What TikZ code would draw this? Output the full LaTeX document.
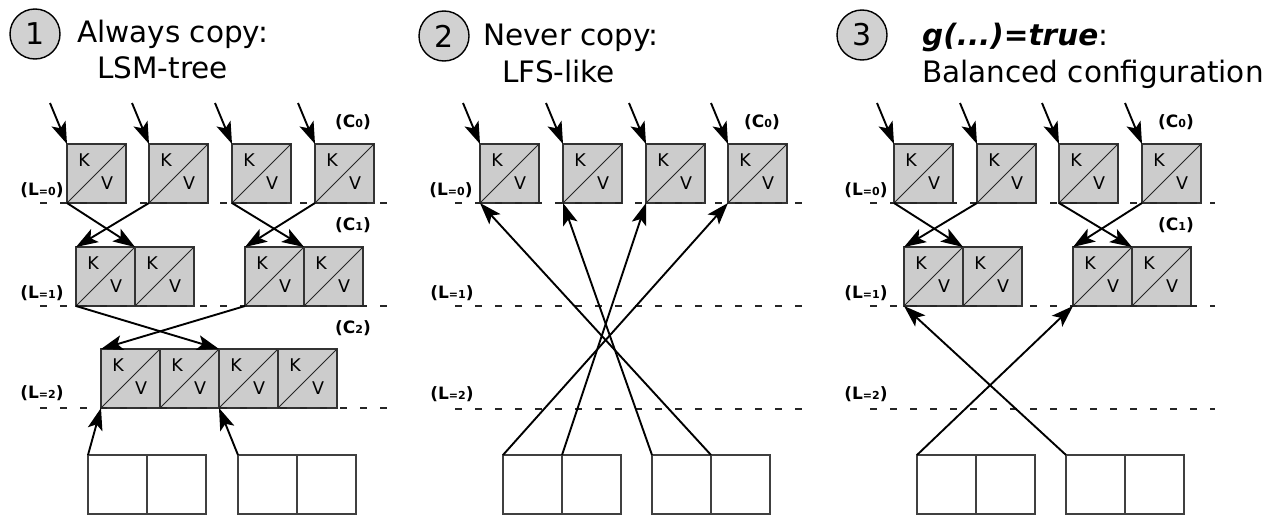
\documentclass[tikz,border=0pt]{standalone}
\usepackage{fontspec}
\setmainfont{DejaVu Sans}
\usetikzlibrary{arrows.meta,calc}
\newcommand\kvb[3]{%
  \node[kv] (#1) at (#2,#3) {};
  \draw[diag] (#1.south west) -- (#1.north east);
  \node[kvt] at ($(#1.north west)+(17,16)$) {K};
  \node[kvt] at ($(#1.north west)+(40,39)$) {V};
}
\newcommand\wbx[3]{\node[wb] (#1) at (#2,#3) {};}
\newcommand\lv[1]{{\fontsize{11}{11}\selectfont #1}}
\tikzset{bigtip/.tip={Stealth[length=22pt,width=15pt,inset=5pt]}}
\begin{document}
\begin{tikzpicture}[x=1pt,y=-1pt,
  kv/.style={rectangle,draw=black!80,fill=black!20,line width=1.4pt,minimum width=59pt,minimum height=59pt,inner sep=0pt,outer sep=0pt,anchor=north west},
  wb/.style={rectangle,draw=black!75,fill=white,line width=1.4pt,minimum width=59pt,minimum height=59pt,inner sep=0pt,outer sep=0pt,anchor=north west},
  diag/.style={line width=1pt,draw=black!85},
  kvt/.style={font=\fontsize{17.5}{17.5}\selectfont,inner sep=0pt},
  lvl/.style={dash pattern=on 7pt off 13pt,line width=1.8pt,draw=black!85},
  arr/.style={line width=1.9pt,arrows={-bigtip}},
  lab/.style={font=\fontsize{17}{17}\selectfont\bfseries,inner sep=0pt},
  num/.style={circle,draw,fill=black!18,line width=1.4pt,minimum size=50pt,inner sep=0pt,font=\fontsize{30}{30}\selectfont},
  ttl/.style={font=\fontsize{29.5}{29.5}\selectfont,anchor=base west,inner sep=0pt}
]
\useasboundingbox (0,0) rectangle (1274,514);

% ---------- titles ----------
\node[num] (n1) at (35,34) {1};
\node[num] (n2) at (444,36) {2};
\node[num] (n3) at (862,35) {3};
\node[ttl] (t1a) at (77,42) {Always copy:};
\node[ttl] (t1b) at (97,78) {LSM-tree};
\node[ttl] (t2a) at (483,45) {Never copy:};
\node[ttl] (t2b) at (502,82) {LFS-like};
\node[ttl] (t3a) at (922,45) {\textbf{\textit{g(...)=true}}:};
\node[ttl] (t3b) at (922,82) {Balanced configuration};

% ---------- panel 1 ----------
\kvb{a00}{67}{144}\kvb{a01}{149}{144}\kvb{a02}{232}{144}\kvb{a03}{315}{144}
\kvb{a10}{76}{247}\kvb{a11}{135}{247}\kvb{a12}{245}{247}\kvb{a13}{304}{247}
\kvb{a20}{101}{349}\kvb{a21}{160}{349}\kvb{a22}{219}{349}\kvb{a23}{278}{349}
\wbx{ab0}{88}{455}\wbx{ab1}{147}{455}\wbx{ab2}{238}{455}\wbx{ab3}{297}{455}
\draw[lvl] (40,203) -- (387,203);
\draw[lvl] (40,306) -- (387,306);
\draw[lvl] (40,408) -- (387,408);
\node[lab] (al0) at (42,190) {(L\lv{=0})};
\node[lab] (al1) at (42,293) {(L\lv{=1})};
\node[lab] (al2) at (42,393) {(L\lv{=2})};
\node[lab] (ac0) at (353,122) {(C\lv{0})};
\node[lab] (ac1) at (353,225) {(C\lv{1})};
\node[lab] (ac2) at (353,328) {(C\lv{2})};
\foreach \b in {a00,a01,a02,a03}{
  \coordinate (\b in) at ($(\b.north west)+(-17,-41)$);
  \draw[arr] (\b in) -- (\b.north west);
}
\draw[arr] (a00.south west) -- (a11.north west);
\draw[arr] (a01.south west) -- (a10.north west);
\draw[arr] (a02.south west) -- (a13.north west);
\draw[arr] (a03.south west) -- (a12.north west);
\draw[arr] (a10.south west) -- (a22.north west);
\draw[arr] (a12.south west) -- (a20.north west);
\draw[arr] (ab0.north west) -- (a20.south west);
\draw[arr] (ab2.north west) -- (a22.south west);

% ---------- panel 2 ----------
\kvb{b00}{480}{144}\kvb{b01}{563}{144}\kvb{b02}{646}{144}\kvb{b03}{728}{144}
\wbx{bb0}{503}{455}\wbx{bb1}{562}{455}\wbx{bb2}{652}{455}\wbx{bb3}{711}{455}
\draw[lvl] (455,203) -- (802,203);
\draw[lvl] (455,306) -- (802,306);
\draw[lvl] (455,409) -- (802,409);
\node[lab] (bl0) at (451,190) {(L\lv{=0})};
\node[lab] (bl1) at (452,293) {(L\lv{=1})};
\node[lab] (bl2) at (452,394) {(L\lv{=2})};
\node[lab] (bc0) at (762,122) {(C\lv{0})};
\foreach \b in {b00,b01,b02,b03}{
  \coordinate (\b in) at ($(\b.north west)+(-17,-41)$);
  \draw[arr] (\b in) -- (\b.north west);
}
\draw[arr] (bb0.north west) -- (b03.south west);
\draw[arr] (bb1.north west) -- (b02.south west);
\draw[arr] (bb2.north west) -- (b01.south west);
\draw[arr] (bb3.north west) -- (b00.south west);

% ---------- panel 3 ----------
\kvb{c00}{894}{144}\kvb{c01}{977}{144}\kvb{c02}{1059}{144}\kvb{c03}{1142}{144}
\kvb{c10}{904}{247}\kvb{c11}{963}{247}\kvb{c12}{1073}{247}\kvb{c13}{1132}{247}
\wbx{cb0}{917}{455}\wbx{cb1}{976}{455}\wbx{cb2}{1066}{455}\wbx{cb3}{1125}{455}
\draw[lvl] (870,203) -- (1215,203);
\draw[lvl] (870,306) -- (1215,306);
\draw[lvl] (870,409) -- (1215,409);
\node[lab] (cl0) at (866,190) {(L\lv{=0})};
\node[lab] (cl1) at (866,293) {(L\lv{=1})};
\node[lab] (cl2) at (866,394) {(L\lv{=2})};
\node[lab] (cc0) at (1176,122) {(C\lv{0})};
\node[lab] (cc1) at (1176,225) {(C\lv{1})};
\foreach \b in {c00,c01,c02,c03}{
  \coordinate (\b in) at ($(\b.north west)+(-17,-41)$);
  \draw[arr] (\b in) -- (\b.north west);
}
\draw[arr] (c00.south west) -- (c11.north west);
\draw[arr] (c01.south west) -- (c10.north west);
\draw[arr] (c02.south west) -- (c13.north west);
\draw[arr] (c03.south west) -- (c12.north west);
\draw[arr] (cb0.north west) -- (c12.south west);
\draw[arr] (cb2.north west) -- (c10.south west);
\end{tikzpicture}
\end{document}
